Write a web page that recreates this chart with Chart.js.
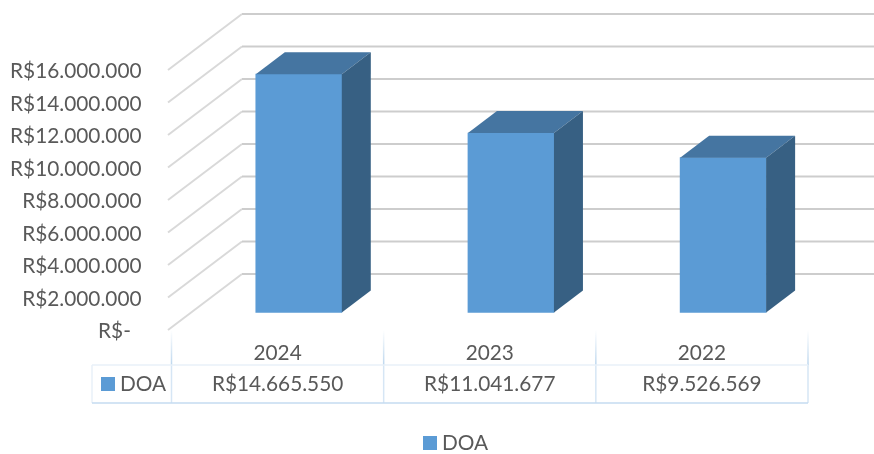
<!DOCTYPE html>
<html>
<head>
<meta charset="utf-8">
<style>
  body { margin: 0; background: #fff; }
  canvas { display: block; }
</style>
<script src="https://cdn.jsdelivr.net/npm/chart.js@4"></script>
</head>
<body>
<canvas id="doa-chart" width="874" height="454"></canvas>
<script>
const years = ['2024', '2023', '2022'];
const doaValues = [14665550, 11041677, 9526569];
const seriesName = 'DOA';
const yMax = 16000000;
const yStep = 2000000;

const FONT = '20.8px Lato';
const TEXT = '#595959';
const BLUE = '#5B9BD5';

// R$14.665.550, zero shows as the accounting dash
function formatBRL(v) {
    if (v === 0) return 'R$-\u00A0\u00A0';
    return 'R$' + String(v).replace(/\B(?=(\d{3})+$)/g, '.');
}

function drawKey(ctx, x, y, label) {
    ctx.fillStyle = BLUE;
    ctx.fillRect(x, y, 14, 14);
    ctx.fillStyle = TEXT;
    ctx.textAlign = 'left';
    ctx.fillText(label, x + 19, y + 7);
}

// back wall and side wall lines, taken from the y scale ticks
const wallPlugin = {
    id: 'wall',
    beforeDatasetsDraw(chart) {
        const {ctx, scales: {y}} = chart;
        ctx.save();
        y.ticks.forEach(t => {
            const py = y.getPixelForValue(t.value) - 1.5; // labels sit a bit under their line
            ctx.strokeStyle = '#d9d9d9';
            ctx.lineWidth = 2;
            ctx.beginPath();
            ctx.moveTo(168, py);
            ctx.lineTo(242, py - 56);
            ctx.stroke();
            ctx.strokeStyle = '#cdcdcd';
            ctx.beginPath();
            ctx.moveTo(242, py - 56);
            ctx.lineTo(874, py - 56);
            ctx.stroke();
        });
        ctx.restore();
    }
};

// pushes the bars into the depth of the box and adds top and side faces
const depthPlugin = {
    id: 'depth',
    beforeDatasetsDraw(chart) {
        chart.ctx.save();
        chart.ctx.translate(21.2, -19);
    },
    afterDatasetsDraw(chart) {
        const ctx = chart.ctx;
        const dx = 29, dy = -22;
        chart.getDatasetMeta(0).data.forEach(bar => {
            const l = bar.x - bar.width / 2;
            const r = bar.x + bar.width / 2;
            ctx.fillStyle = '#4575A1';
            ctx.beginPath();
            ctx.moveTo(l, bar.y);
            ctx.lineTo(l + dx, bar.y + dy);
            ctx.lineTo(r + dx, bar.y + dy);
            ctx.lineTo(r, bar.y);
            ctx.closePath();
            ctx.fill();
            ctx.fillStyle = '#376083';
            ctx.beginPath();
            ctx.moveTo(r, bar.y);
            ctx.lineTo(r + dx, bar.y + dy);
            ctx.lineTo(r + dx, bar.base + dy);
            ctx.lineTo(r, bar.base);
            ctx.closePath();
            ctx.fill();
        });
        ctx.restore();
    }
};

// data table under the plot and the bottom legend
const tablePlugin = {
    id: 'table',
    afterDraw(chart) {
        const {ctx, scales: {x}} = chart;
        const cell = (x.right - x.left) / years.length;
        const top = 330, mid = 365, bottom = 403, tableLeft = 92;
        ctx.save();
        ctx.lineWidth = 1.5;
        const fade = ctx.createLinearGradient(0, top, 0, mid);
        fade.addColorStop(0, '#ffffff');
        fade.addColorStop(1, '#bdd7ee');
        for (let i = 0; i <= years.length; i++) {
            const px = x.left + i * cell;
            ctx.strokeStyle = fade;
            ctx.beginPath();
            ctx.moveTo(px, top);
            ctx.lineTo(px, mid);
            ctx.stroke();
            ctx.strokeStyle = '#d6e6f5';
            ctx.beginPath();
            ctx.moveTo(px, mid);
            ctx.lineTo(px, bottom);
            ctx.stroke();
        }
        ctx.strokeStyle = '#e9f1f9';
        ctx.beginPath();
        ctx.moveTo(tableLeft, mid);
        ctx.lineTo(x.right, mid);
        ctx.moveTo(tableLeft, mid);
        ctx.lineTo(tableLeft, bottom);
        ctx.stroke();
        ctx.strokeStyle = '#c5dbf0';
        ctx.beginPath();
        ctx.moveTo(tableLeft, bottom);
        ctx.lineTo(x.right, bottom);
        ctx.stroke();

        ctx.font = FONT;
        ctx.textBaseline = 'middle';
        ctx.fillStyle = TEXT;
        ctx.textAlign = 'center';
        doaValues.forEach((v, i) => {
            ctx.fillText(formatBRL(v), x.getPixelForValue(i), 384);
        });
        drawKey(ctx, 101, 377, seriesName);
        drawKey(ctx, 423, 436, seriesName);
        ctx.restore();
    }
};

new Chart(document.getElementById('doa-chart'), {
    type: 'bar',
    data: {
        labels: years,
        datasets: [{
            label: seriesName,
            data: doaValues,
            backgroundColor: BLUE,
            barThickness: 86,
            clip: false
        }]
    },
    options: {
        responsive: false,
        animation: false,
        layout: { padding: { top: 71.5, right: 66, bottom: 0, left: 0 } },
        plugins: {
            legend: { display: false },
            tooltip: { enabled: false }
        },
        scales: {
            x: {
                grid: { display: false },
                border: { display: false },
                ticks: { color: TEXT, font: { family: 'Lato', size: 20.8 }, padding: 1.5, maxRotation: 0 },
                afterFit(scale) { scale.height = 122.5; }
            },
            y: {
                min: 0,
                max: yMax,
                grid: { display: false },
                border: { display: false },
                ticks: {
                    stepSize: yStep,
                    color: TEXT,
                    font: { family: 'Lato', size: 20.8 },
                    padding: 22,
                    callback: v => formatBRL(v)
                },
                afterFit(scale) { scale.width = 171.5; }
            }
        }
    },
    plugins: [wallPlugin, depthPlugin, tablePlugin]
});
</script>
</body>
</html>
